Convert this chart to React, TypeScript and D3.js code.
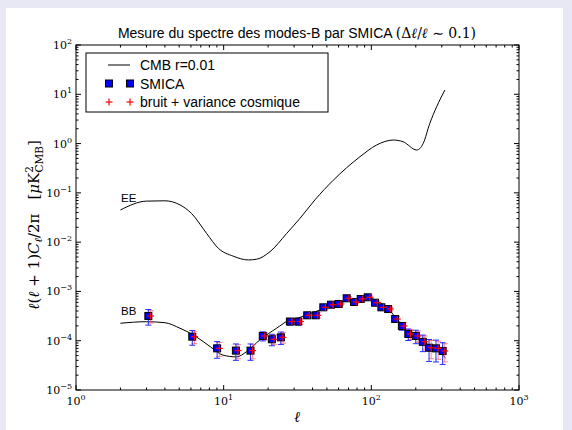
import React from "react";
import * as d3 from "d3";

// ---------- data ----------
const eeL = [2, 3, 4, 5.06, 6.07, 7.67, 9.2, 11.6, 14.7, 16.7, 20.6, 26.7, 32.9, 41.5, 55.2, 83.7, 108.6, 140.7, 164, 203, 224.6, 249, 277, 315];
const eeV = [0.045, 0.068, 0.069, 0.057, 0.038, 0.015, 0.0075, 0.0052, 0.00435, 0.0045, 0.0064, 0.015, 0.0305, 0.072, 0.18, 0.54, 0.935, 1.18, 1.09, 0.74, 1.01, 2.58, 5.6, 12.2];

const bbL = [2, 3, 4, 5.06, 6.5, 8.1, 9.9, 12.2, 14.3, 17.6, 22.8, 28, 32, 37, 42, 48, 55, 62, 70, 80, 90, 100, 110, 120, 130, 145, 160, 180, 200, 230, 260, 290, 318];
const bbV = [2.26e-4, 2.43e-4, 2.32e-4, 1.79e-4, 1.21e-4, 7.6e-5, 5.1e-5, 4.7e-5, 6.0e-5, 1.04e-4, 1.79e-4, 2.64e-4, 2.9e-4, 3.4e-4, 3.9e-4, 4.5e-4, 5.4e-4, 6.0e-4, 6.6e-4, 7.1e-4, 7.4e-4, 7.2e-4, 6.4e-4, 5.4e-4, 4.5e-4, 3.0e-4, 2.1e-4, 1.5e-4, 1.2e-4, 9.2e-5, 7.3e-5, 5.8e-5, 4.5e-5];

const smicaL = [3.09, 6.13, 9.03, 12.1, 15.2, 18.4, 21.2, 24.4, 28.1, 32.0, 36.8, 42.0, 47.3, 53.3, 60.1, 68.1, 76.3, 84.7, 94.5, 106, 117, 130, 145, 161, 178, 200, 223, 246, 274, 304];
const smicaV = [3.18e-4, 1.21e-4, 7.0e-5, 6.3e-5, 6.3e-5, 1.25e-4, 1.07e-4, 1.17e-4, 2.45e-4, 2.45e-4, 3.28e-4, 3.28e-4, 4.76e-4, 5.38e-4, 5.56e-4, 7.26e-4, 6.1e-4, 7.03e-4, 7.6e-4, 5.9e-4, 4.76e-4, 4.4e-4, 2.76e-4, 1.99e-4, 1.37e-4, 1.25e-4, 9.5e-5, 7.2e-5, 7.0e-5, 6.2e-5];
const smicaErr = [1.11e-4, 4.0e-5, 2.6e-5, 2.3e-5, 2.3e-5, 2.6e-5, 2.8e-5, 3.3e-5, 3.8e-5, 3.8e-5, 4.6e-5, 4.6e-5, 4.3e-5, 4.8e-5, 5.0e-5, 6.5e-5, 5.5e-5, 6.3e-5, 6.8e-5, 5.3e-5, 4.3e-5, 4.0e-5, 3.9e-5, 3.6e-5, 3.6e-5, 3.8e-5, 3.5e-5, 3.4e-5, 3.3e-5, 2.9e-5];

const noiseL = [3.2, 6.35, 9.35, 12.5, 15.7, 19.0, 21.9, 25.2, 29.0, 33.1, 38.0, 43.4, 48.9, 55.1, 62.1, 70.4, 78.9, 87.5, 97.7, 109.6, 121, 134.4, 149.9, 166.4, 184, 206.7, 230.5, 254.2, 283.2, 314.2];
const noiseV = [3.18e-4, 1.21e-4, 7.0e-5, 6.3e-5, 6.3e-5, 1.25e-4, 1.07e-4, 1.17e-4, 2.45e-4, 2.45e-4, 3.28e-4, 3.28e-4, 4.76e-4, 5.38e-4, 5.56e-4, 7.26e-4, 6.1e-4, 7.03e-4, 7.6e-4, 5.9e-4, 4.76e-4, 4.4e-4, 2.76e-4, 1.99e-4, 1.37e-4, 1.25e-4, 9.5e-5, 7.2e-5, 7.0e-5, 6.2e-5];
const noiseErr = [9.0e-5, 3.4e-5, 2.2e-5, 2.0e-5, 2.0e-5, 2.2e-5, 2.4e-5, 2.8e-5, 3.2e-5, 3.2e-5, 3.9e-5, 3.9e-5, 3.7e-5, 4.1e-5, 4.3e-5, 5.5e-5, 4.7e-5, 5.4e-5, 5.8e-5, 4.5e-5, 3.7e-5, 3.4e-5, 3.3e-5, 3.1e-5, 3.1e-5, 3.2e-5, 3.0e-5, 2.9e-5, 2.8e-5, 2.5e-5];

const xDecades = [0, 1, 2, 3];
const yDecades = [2, 1, 0, -1, -2, -3, -4, -5];

const titleText = "Mesure du spectre des modes-B par SMICA";
const legendLabels = ["CMB r=0.01", "SMICA", "bruit + variance cosmique"];

// ---------- layout ----------
const W = 572, H = 430;
const L = 76, R = 519, T = 45, B = 390;
const serif = "'DejaVu Serif', serif";
const sans = "'Liberation Sans', Arial, sans-serif";

export default function App() {
  const x = d3.scaleLog().domain([1, 1000]).range([L, R]);
  const y = d3.scaleLog().domain([1e-5, 1e2]).range([B, T]);

  const line = d3
    .line<[number, number]>()
    .x((d) => x(d[0]))
    .y((d) => y(d[1]))
    .curve(d3.curveMonotoneX);

  const eePath = line(eeL.map((l, i) => [l, eeV[i]] as [number, number])) || "";
  const bbPath = line(bbL.map((l, i) => [l, bbV[i]] as [number, number])) || "";

  const xMinor: number[] = [];
  for (let e = 0; e < 3; e++) for (let k = 2; k <= 9; k++) xMinor.push(k * Math.pow(10, e));
  const yMinor: number[] = [];
  for (let e = -5; e < 2; e++) for (let k = 2; k <= 9; k++) yMinor.push(k * Math.pow(10, e));

  const maj = 5, mnr = 2.5;

  return (
    <div style={{ position: "absolute", left: 0, top: 0 }}>
      <svg width={W} height={H} xmlns="http://www.w3.org/2000/svg">
        <rect x={0} y={0} width={W} height={H} fill="#e8e8f4" />
        <rect x={6} y={8} width={557} height={H - 8} fill="#ffffff" />

        {/* title */}
        <text x={297} y={38} textAnchor="middle" fontSize={14} fill="#000">
          <tspan fontFamily={sans}>{titleText} </tspan>
          <tspan fontFamily={serif}>(Δ</tspan>
          <tspan fontFamily={serif} fontStyle="italic">ℓ</tspan>
          <tspan fontFamily={serif}>/</tspan>
          <tspan fontFamily={serif} fontStyle="italic">ℓ</tspan>
          <tspan fontFamily={serif}> ∼ 0.1)</tspan>
        </text>

        <path d={eePath} fill="none" stroke="#000" strokeWidth={1} />
        <path d={bbPath} fill="none" stroke="#000" strokeWidth={1} />

        <text x={121} y={202} fontFamily={sans} fontSize={11.5}>EE</text>
        <text x={121} y={315} fontFamily={sans} fontSize={11.5}>BB</text>

        <g stroke="#ff5050" strokeOpacity={0.7} strokeWidth={1}>
          {noiseL.map((l, i) => {
            const cx = x(l);
            const y1 = y(noiseV[i] + noiseErr[i]);
            const y2 = y(noiseV[i] - noiseErr[i]);
            return (
              <g key={"ne" + i}>
                <line x1={cx} x2={cx} y1={y1} y2={y2} />
                <line x1={cx - 3} x2={cx + 3} y1={y1} y2={y1} />
                <line x1={cx - 3} x2={cx + 3} y1={y2} y2={y2} />
              </g>
            );
          })}
        </g>

        <g stroke="#2a2aff" strokeWidth={1}>
          {smicaL.map((l, i) => {
            const cx = x(l);
            const y1 = y(smicaV[i] + smicaErr[i]);
            const y2 = y(smicaV[i] - smicaErr[i]);
            return (
              <g key={"se" + i}>
                <line x1={cx} x2={cx} y1={y1} y2={y2} />
                <line x1={cx - 3} x2={cx + 3} y1={y1} y2={y1} />
                <line x1={cx - 3} x2={cx + 3} y1={y2} y2={y2} />
              </g>
            );
          })}
        </g>

        {smicaL.map((l, i) => (
          <rect key={"s" + i} x={x(l) - 3.5} y={y(smicaV[i]) - 3.5} width={7} height={7} fill="#0000ff" stroke="#000" strokeWidth={1} />
        ))}

        <g stroke="#ff0000" strokeWidth={1.2}>
          {noiseL.map((l, i) => (
            <g key={"n" + i}>
              <line x1={x(l) - 3.5} x2={x(l) + 3.5} y1={y(noiseV[i])} y2={y(noiseV[i])} />
              <line x1={x(l)} x2={x(l)} y1={y(noiseV[i]) - 3.5} y2={y(noiseV[i]) + 3.5} />
            </g>
          ))}
        </g>

        <rect x={L} y={T} width={R - L} height={B - T} fill="none" stroke="#000" strokeWidth={1} />

        <g stroke="#000" strokeWidth={1}>
          {xDecades.map((e) => {
            const px = x(Math.pow(10, e));
            return (
              <g key={"xm" + e}>
                <line x1={px} x2={px} y1={B} y2={B - maj} />
                <line x1={px} x2={px} y1={T} y2={T + maj} />
              </g>
            );
          })}
          {xMinor.map((v, i) => {
            const px = x(v);
            return (
              <g key={"xn" + i}>
                <line x1={px} x2={px} y1={B} y2={B - mnr} />
                <line x1={px} x2={px} y1={T} y2={T + mnr} />
              </g>
            );
          })}
          {yDecades.map((e) => {
            const py = y(Math.pow(10, e));
            return (
              <g key={"ym" + e}>
                <line x1={L} x2={L + maj} y1={py} y2={py} />
                <line x1={R} x2={R - maj} y1={py} y2={py} />
              </g>
            );
          })}
          {yMinor.map((v, i) => {
            const py = y(v);
            return (
              <g key={"yn" + i}>
                <line x1={L} x2={L + mnr} y1={py} y2={py} />
                <line x1={R} x2={R - mnr} y1={py} y2={py} />
              </g>
            );
          })}
        </g>

        {xDecades.map((e) => (
          <text key={"xl" + e} x={x(Math.pow(10, e))} y={405} textAnchor="middle" fontFamily={serif} fontSize={11}>
            10<tspan fontSize={8} dy={-5}>{String(e)}</tspan>
          </text>
        ))}

        {yDecades.map((e) => (
          <text key={"yl" + e} x={72} y={y(Math.pow(10, e)) + 4} textAnchor="end" fontFamily={serif} fontSize={11}>
            10<tspan fontSize={8} dy={-5}>{e < 0 ? "−" + Math.abs(e) : String(e)}</tspan>
          </text>
        ))}

        <text x={297} y={422} textAnchor="middle" fontFamily={serif} fontStyle="italic" fontSize={15}>ℓ</text>

        <text transform="translate(39,225) rotate(-90)" textAnchor="middle" fontFamily={serif} fontSize={15}>
          <tspan fontStyle="italic">ℓ</tspan>
          <tspan>(</tspan>
          <tspan fontStyle="italic">ℓ</tspan>
          <tspan> + 1)</tspan>
          <tspan fontStyle="italic">C</tspan>
          <tspan fontStyle="italic" fontSize={10.5} dy={3}>ℓ</tspan>
          <tspan dy={-3}>/2π</tspan>
          <tspan dx={14}>[</tspan>
          <tspan fontStyle="italic">μ</tspan>
          <tspan>K</tspan>
          <tspan fontSize={10.5} dy={-6}>2</tspan>
          <tspan fontSize={10.5} dx={-6.5} dy={10}>CMB</tspan>
          <tspan dy={-4}>]</tspan>
        </text>

        <rect x={86} y={53} width={242} height={59} fill="#fff" stroke="#000" strokeWidth={1} />
        <line x1={108} x2={130} y1={65} y2={65} stroke="#000" strokeWidth={1} />
        <text x={140} y={70} fontFamily={sans} fontSize={14}>{legendLabels[0]}</text>
        {[109, 130].map((px) => (
          <rect key={"lg" + px} x={px - 3.5} y={83.5 - 3.5} width={7} height={7} fill="#0000ff" stroke="#000" strokeWidth={1} />
        ))}
        <text x={140} y={88.5} fontFamily={sans} fontSize={14}>{legendLabels[1]}</text>
        {[109, 130].map((px) => (
          <g key={"lp" + px} stroke="#ff0000" strokeWidth={1.2}>
            <line x1={px - 3.5} x2={px + 3.5} y1={102} y2={102} />
            <line x1={px} x2={px} y1={98.5} y2={105.5} />
          </g>
        ))}
        <text x={140} y={107} fontFamily={sans} fontSize={14}>{legendLabels[2]}</text>
      </svg>
    </div>
  );
}
